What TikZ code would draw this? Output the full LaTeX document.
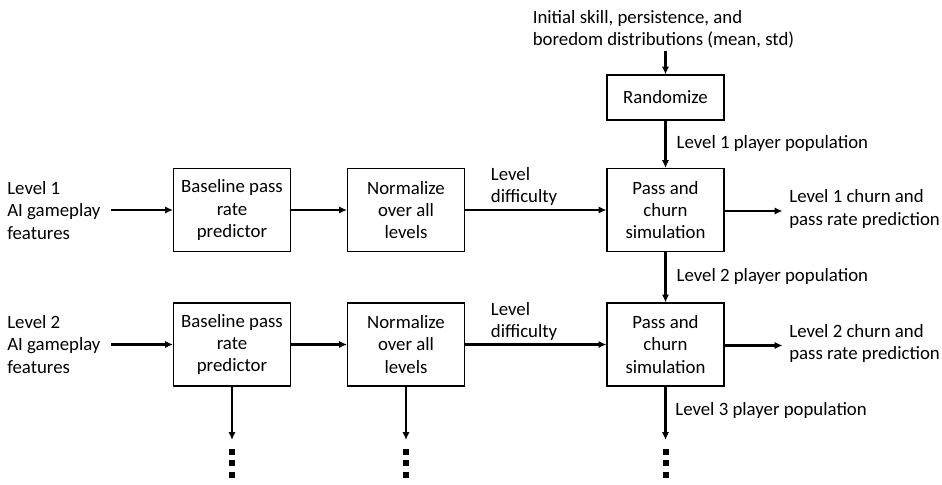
\documentclass[tikz,border=0pt]{standalone}
\usepackage{fontspec}
\setmainfont{Carlito}
\usetikzlibrary{arrows.meta,positioning}

\tikzset{
	stage/.style={draw,line width=0.6pt,align=center,minimum width=2.34cm,minimum height=1.66cm,inner sep=2pt},
	flow/.style={line width=1.3pt,-{Latex[length=4.5pt,width=4.2pt]}},
	plain/.style={align=left,inner sep=0pt},
	dotbox/.style={fill,minimum size=0.12cm,inner sep=0pt}
}

\begin{document}
\begin{tikzpicture}[font=\fontsize{10.7}{12.6}\selectfont]
	\useasboundingbox (0,0) rectangle (18.84,9.7);

	% top input and randomize
	\node[plain,align=left] (dist) at (13.27,9.12) {Initial skill, persistence, and\\boredom distributions (mean, std)};
	\node[stage,minimum height=0.9cm] (rand) at (13.31,7.75) {Randomize};

	% level 1
	\node[plain,anchor=west] (in1) at (0.14,5.49) {Level 1\\AI gameplay\\features};
	\node[stage] (base1) at (4.64,5.5) {Baseline pass\\rate\\predictor};
	\node[stage] (norm1) at (8.12,5.5) {Normalize\\over all\\levels};
	\node[stage] (sim1) at (13.31,5.5) {Pass and\\churn\\simulation};
	\node[plain,anchor=west] (out1) at (15.78,5.52) {Level 1 churn and\\pass rate prediction};
	\coordinate (s1) at (2.22,5.5);

	% level 2
	\node[plain,anchor=west] (in2) at (0.14,2.81) {Level 2\\AI gameplay\\features};
	\node[stage] (base2) at (4.64,2.81) {Baseline pass\\rate\\predictor};
	\node[stage] (norm2) at (8.12,2.81) {Normalize\\over all\\levels};
	\node[stage] (sim2) at (13.31,2.81) {Pass and\\churn\\simulation};
	\node[plain,anchor=west] (out2) at (15.78,2.83) {Level 2 churn and\\pass rate prediction};
	\coordinate (s2) at (2.22,2.81);

	% arrows
	\draw[flow] (dist.south -| rand.north) ++(0,-0.05) coordinate (d0) -- (rand.north);
	\draw[flow] (rand) -- node[plain,anchor=west,xshift=0.2cm,yshift=0.02cm] (pop1) {Level 1 player population} (sim1);
	\draw[flow] (sim1) -- node[plain,anchor=west,xshift=0.2cm,yshift=0.02cm] (pop2) {Level 2 player population} (sim2);
	\foreach \i in {1,2} {
		\draw[flow] (s\i) -- (base\i);
		\draw[flow] (base\i) -- (norm\i);
		\draw[flow] (norm\i) -- node[plain,anchor=south west,xshift=-0.92cm,yshift=0.06cm] (diff\i) {Level\\difficulty} (sim\i);
		\draw[flow] (sim\i.east |- out\i.west) ++(0,-0.04) -- ++(1.16,0) coordinate (o\i);
	}

	% continuation below level 2
	\foreach \n in {base2,norm2,sim2} {
		\coordinate (\n-end) at (\n.south |- 0,0.9);
		\draw[flow] (\n) -- (\n-end);
		\foreach \k/\y in {a/0.66,b/0.44,c/0.2}
			\node[dotbox] (\n-\k) at (\n.south |- 0,\y) {};
	}
	\node[plain,anchor=west] (pop3) at (13.5,1.5) {Level 3 player population};
\end{tikzpicture}
\end{document}
